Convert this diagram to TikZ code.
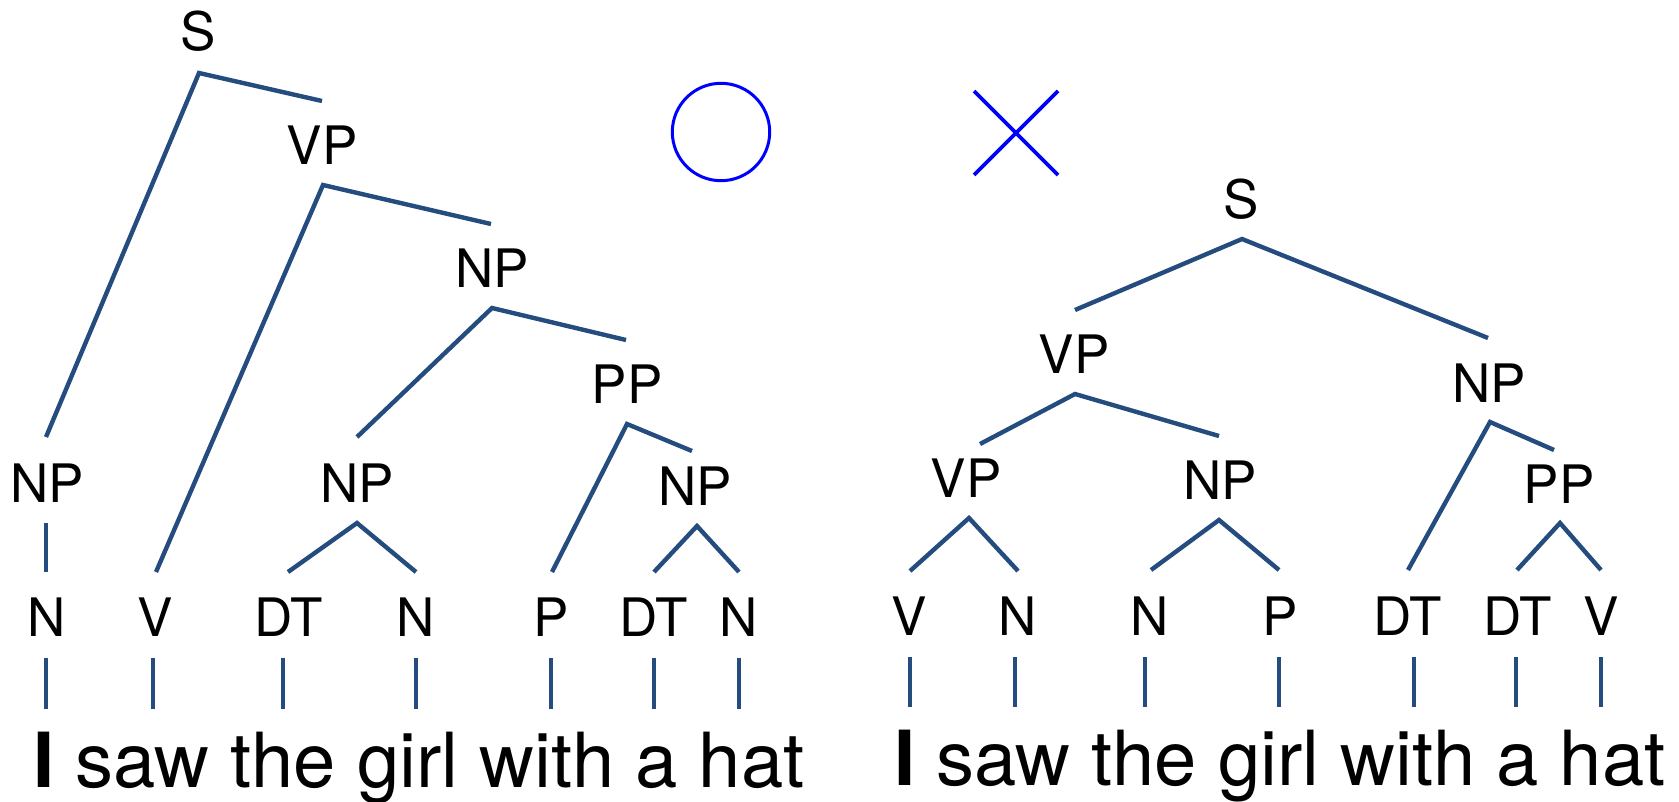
\documentclass[tikz,border=0pt]{standalone}
\usepackage{fontspec}
\setmainfont{TeX Gyre Heros}
\definecolor{treeblue}{RGB}{36,76,126}
\definecolor{markblue}{RGB}{0,0,255}
\begin{document}
\begin{tikzpicture}[x=0.5pt,y=-0.5pt,
  lab/.style={anchor=base,inner sep=0pt,font=\fontsize{26.5pt}{30pt}\selectfont},
  sentence/.style={anchor=base west,inner sep=0pt,font=\fontsize{38pt}{42pt}\selectfont},
  edge/.style={draw=treeblue,line width=2.2pt},
  tickline/.style={draw=treeblue,line width=2.2pt}]
\useasboundingbox (0,0) rectangle (1679,802);

% ---------------- left tree ----------------
\node[lab] (LS)   at (198,51)  {S};
\node[lab] (LVP)  at (322,165) {VP};
\node[lab] (LNP1) at (492,287) {NP};
\node[lab] (LNPa) at (47,502)  {NP};
\node[lab] (LNPb) at (357,502) {NP};
\node[lab] (LPP)  at (627,403) {PP};
\node[lab] (LNPc) at (695,505) {NP};
\node[lab] (LN1)  at (47,636)  {N};
\node[lab] (LV)   at (155,636) {V};
\node[lab] (LDT1) at (289,636) {DT};
\node[lab] (LN2)  at (416,636) {N};
\node[lab] (LP)   at (551,636) {P};
\node[lab] (LDT2) at (654,636) {DT};
\node[lab] (LN3)  at (739,636) {N};

\coordinate (LSv) at (199,73);   \coordinate (LSl) at (46,437);  \coordinate (LSr) at (322,101);
\coordinate (LVPv) at (323,185); \coordinate (LVPl) at (156,572); \coordinate (LVPr) at (491,224);
\coordinate (LNP1v) at (492,308); \coordinate (LNP1l) at (357,437); \coordinate (LNP1r) at (626,340);
\coordinate (LNPav) at (46,523); \coordinate (LNPab) at (46,572);
\coordinate (LNPbv) at (357,523); \coordinate (LNPbl) at (288,572); \coordinate (LNPbr) at (416,572);
\coordinate (LPPv) at (627,424); \coordinate (LPPl) at (552,572); \coordinate (LPPr) at (692,451);
\coordinate (LNPcv) at (697,526); \coordinate (LNPcl) at (654,572); \coordinate (LNPcr) at (739,572);

\draw[edge] (LSl) -- (LSv) -- (LSr);
\draw[edge] (LVPl) -- (LVPv) -- (LVPr);
\draw[edge] (LNP1l) -- (LNP1v) -- (LNP1r);
\draw[edge] (LNPav) -- (LNPab);
\draw[edge] (LNPbl) -- (LNPbv) -- (LNPbr);
\draw[edge] (LPPl) -- (LPPv) -- (LPPr);
\draw[edge] (LNPcl) -- (LNPcv) -- (LNPcr);

\foreach \i/\x in {1/46,2/153,3/283,4/416,5/551,6/654,7/739}{
  \coordinate (Lta\i) at (\x,658);
  \coordinate (Ltb\i) at (\x,709);
  \draw[tickline] (Lta\i) -- (Ltb\i);
}
\node[sentence] (Lsent) at (33,787) {\textbf{I} saw the girl with a hat};

% ---------------- marks ----------------
\node[draw=markblue,line width=1.5pt,circle,minimum size=48.7pt,inner sep=0pt] (okmark) at (721,132) {};
\coordinate (xa) at (974,91);  \coordinate (xb) at (1058,175);
\coordinate (xc) at (1058,91); \coordinate (xd) at (974,175);
\draw[draw=markblue,line width=1.9pt] (xa) -- (xb);
\draw[draw=markblue,line width=1.9pt] (xc) -- (xd);

% ---------------- right tree ----------------
\node[lab] (RS)   at (1241,219) {S};
\node[lab] (RVP)  at (1074,373) {VP};
\node[lab] (RNP)  at (1489,402) {NP};
\node[lab] (RVPl) at (966,497)  {VP};
\node[lab] (RNPm) at (1220,499) {NP};
\node[lab] (RPP)  at (1559,503) {PP};
\node[lab] (RV1)  at (909,635)  {V};
\node[lab] (RN1)  at (1018,635) {N};
\node[lab] (RN2)  at (1150,635) {N};
\node[lab] (RP)   at (1280,635) {P};
\node[lab] (RDT1) at (1408,635) {DT};
\node[lab] (RDT2) at (1518,635) {DT};
\node[lab] (RV2)  at (1601,635) {V};

\coordinate (RSv) at (1242,239); \coordinate (RSl) at (1075,310); \coordinate (RSr) at (1488,338);
\coordinate (RVPv) at (1075,394); \coordinate (RVPa) at (980,444); \coordinate (RVPb) at (1219,436);
\coordinate (RNPv) at (1490,422); \coordinate (RNPl) at (1408,570); \coordinate (RNPr) at (1554,450);
\coordinate (RVPlv) at (969,518); \coordinate (RVPll) at (910,571); \coordinate (RVPlr) at (1018,571);
\coordinate (RNPmv) at (1219,520); \coordinate (RNPml) at (1151,570); \coordinate (RNPmr) at (1279,570);
\coordinate (RPPv) at (1560,523); \coordinate (RPPl) at (1517,570); \coordinate (RPPr) at (1601,570);

\draw[edge] (RSl) -- (RSv) -- (RSr);
\draw[edge] (RVPa) -- (RVPv) -- (RVPb);
\draw[edge] (RNPl) -- (RNPv) -- (RNPr);
\draw[edge] (RVPll) -- (RVPlv) -- (RVPlr);
\draw[edge] (RNPml) -- (RNPmv) -- (RNPmr);
\draw[edge] (RPPl) -- (RPPv) -- (RPPr);

\foreach \i/\x in {1/910,2/1015,3/1145,4/1279,5/1414,6/1516,7/1601}{
  \coordinate (Rta\i) at (\x,657);
  \coordinate (Rtb\i) at (\x,707);
  \draw[tickline] (Rta\i) -- (Rtb\i);
}
\node[sentence] (Rsent) at (894,785) {\textbf{I} saw the girl with a hat};
\end{tikzpicture}
\end{document}
